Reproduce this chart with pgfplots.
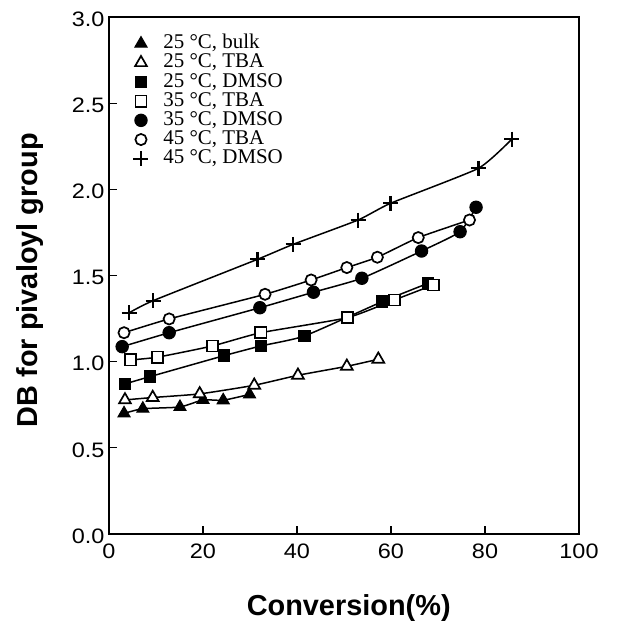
\documentclass[border=0pt]{standalone}
\usepackage{pgfplots}
\pgfplotsset{compat=1.18}
\usepackage{fontspec}
\setmainfont{Liberation Serif}
\newfontfamily\sansf{Liberation Sans}
\newfontfamily\tickf[FakeStretch=1.12]{Liberation Sans}
\begin{document}
\begin{tikzpicture}
\useasboundingbox (0,0) rectangle (618bp,624bp);
\begin{axis}[
  at={(109bp,90bp)}, anchor=south west,
  scale only axis, width=470bp, height=517bp,
  xmin=0, xmax=100, ymin=0, ymax=3,
  xtick={0,20,40,60,80,100},
  ytick={0,0.5,1,1.5,2,2.5,3},
  xtick pos=bottom, ytick pos=left,
  tick align=inside, major tick length=8bp,
  every tick/.style={black, line width=1.2bp},
  axis line style={line width=1.7bp},
  /pgf/number format/assume math mode=true,
  ticklabel style={font=\fontsize{21}{24}\selectfont\tickf},
  yticklabel style={/pgf/number format/.cd, fixed, fixed zerofill, precision=1, /tikz/.cd, xshift=-1bp, yshift=-2bp},
  xticklabel style={yshift=-6bp},
  xlabel={Conversion(\%)},
  ylabel={DB for pivaloyl group},
  label style={font=\fontsize{29}{31}\selectfont\sansf\bfseries},
  xlabel style={at={(axis description cs:0.51,-0.143)}, anchor=center},
  ylabel style={at={(axis description cs:-0.168,0.491)}, anchor=center},
  legend image code/.code={\draw[#1, only marks] plot coordinates {(0bp,0bp)};},
  legend cell align=left,
  legend style={at={(rel axis cs:0.0517,0.9676)}, anchor=north west, draw=none, fill=none,
    inner sep=0pt, column sep=14bp, row sep=0pt,
    font=\fontsize{21}{22}\selectfont,
    nodes={inner xsep=1bp, inner ysep=1.2bp, text height=13.5bp, text depth=3.3bp}},
  every axis plot/.append style={black, line width=1.5bp, smooth, tension=0.3},
]
% 25 C bulk
\addplot[mark=triangle*, mark size=7bp, mark options={solid, fill=black, line width=1bp}] coordinates {
(3.2,0.700) (7.2,0.727) (15.1,0.737) (20.0,0.778) (24.3,0.776) (29.9,0.810)};
\addlegendentry{25 °C, bulk}
% 25 C TBA
\addplot[mark=triangle*, mark size=6.8bp, mark options={solid, fill=white, line width=1.7bp}] coordinates {
(3.4,0.778) (9.3,0.792) (19.3,0.813) (30.9,0.863) (40.2,0.921) (50.6,0.973) (57.3,1.014)};
\addlegendentry{25 °C, TBA}
% 25 C DMSO
\addplot[mark=square*, mark size=5.8bp, mark options={solid, fill=black, line width=1bp}] coordinates {
(3.4,0.871) (8.7,0.913) (24.5,1.035) (32.3,1.091) (41.6,1.149) (58.1,1.348) (67.9,1.455)};
\addlegendentry{25 °C, DMSO}
% 35 C TBA
\addplot[mark=square*, mark size=5.6bp, mark options={solid, fill=white, line width=1.7bp}] coordinates {
(4.6,1.010) (10.3,1.026) (22.0,1.091) (32.3,1.168) (50.7,1.255) (60.7,1.358) (69.0,1.445)};
\addlegendentry{35 °C, TBA}
% 35 C DMSO
\addplot[mark=*, mark size=6.2bp, mark options={solid, fill=black, line width=1bp}] coordinates {
(2.8,1.087) (12.8,1.168) (32.1,1.313) (43.5,1.403) (53.8,1.484) (66.5,1.642) (74.7,1.754) (78.1,1.896)};
\addlegendentry{35 °C, DMSO}
% 45 C TBA
\addplot[mark=*, mark size=5.6bp, mark options={solid, fill=white, line width=1.7bp}] coordinates {
(3.2,1.168) (12.8,1.248) (33.2,1.391) (43.0,1.474) (50.6,1.546) (57.1,1.606) (65.8,1.720) (76.7,1.822)};
\addlegendentry{45 °C, TBA}
% 45 C DMSO
\addplot[mark=+, mark size=7.5bp, mark options={solid, line width=2.2bp}] coordinates {
(4.3,1.284) (9.4,1.354) (31.6,1.594) (39.2,1.681) (53.0,1.822) (59.9,1.919) (78.6,2.122) (85.7,2.291)};
\addlegendentry{45 °C, DMSO}
\end{axis}
\end{tikzpicture}
\end{document}
